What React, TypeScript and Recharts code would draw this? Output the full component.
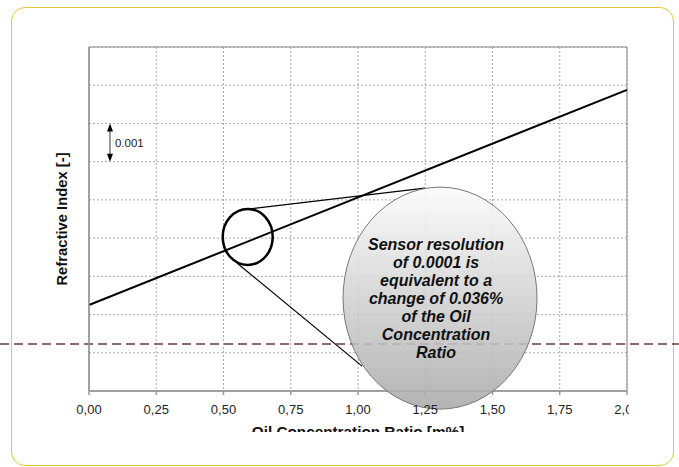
import React from "react"
import {
  LineChart,
  Line,
  XAxis,
  YAxis,
  CartesianGrid,
  ReferenceLine,
  ReferenceDot,
  ReferenceArea,
  Label,
} from "recharts"

// calibration line: oil concentration [m%] vs refractive index offset
const concentration = [0, 2.0]
const refractiveIndex = [0.00225, 0.00788]

const xTicks = [0, 0.25, 0.5, 0.75, 1.0, 1.25, 1.5, 1.75, 2.0]
const yTicks = [0, 0.001, 0.002, 0.003, 0.004, 0.005, 0.006, 0.007, 0.008, 0.009]

// annotations (data coordinates)
const zoomSpot = { x: 0.59, y: 0.00403 }
const noteSpot = { x: 1.305, y: 0.00243 }
const connectorTop = [
  { x: 0.591, y: 0.00476 },
  { x: 1.249, y: 0.00531 },
]
const connectorBottom = [
  { x: 0.55, y: 0.00335 },
  { x: 1.015, y: 0.00065 },
]
const sensorLimit = 0.00123
const stepMarker = { x: 0.078, from: 0.006, to: 0.007, label: "0.001" }
const noteLines = [
  "Sensor resolution",
  "of 0.0001 is",
  "equivalent to a",
  "change of 0.036%",
  "of the Oil",
  "Concentration",
  "Ratio",
]

const data = concentration.map((c, i) => ({ c, n: refractiveIndex[i] }))

const FONT = "Arial, 'Liberation Sans', sans-serif"

function XTick({ x, y, payload }: any) {
  const label = Number(payload.value).toFixed(2).replace(".", ",")
  const last = payload.value === 2
  return (
    <g>
      {last && (
        <defs>
          <clipPath id="lastTickClip">
            <rect x={x - 20} y={y - 5} width={22} height={25} />
          </clipPath>
        </defs>
      )}
      <text
        x={x}
        y={y}
        dy="0.71em"
        textAnchor="middle"
        fill="#222"
        fontSize={13}
        fontFamily={FONT}
        clipPath={last ? "url(#lastTickClip)" : undefined}
      >
        {label}
      </text>
    </g>
  )
}

function NoTick() {
  return <g />
}

function YTitle({ viewBox }: any) {
  const cx = viewBox.x + viewBox.width / 2 + 3
  const cy = viewBox.y + viewBox.height / 2
  return (
    <text
      x={cx}
      y={cy}
      transform={`rotate(-90 ${cx} ${cy})`}
      textAnchor="middle"
      dominantBaseline="central"
      fontSize={14.8}
      fontWeight="bold"
      fontFamily={FONT}
      fill="#111"
    >
      Refractive Index [-]
    </text>
  )
}

function XTitle({ viewBox }: any) {
  const cx = viewBox.x + viewBox.width / 2
  return (
    <g>
      <defs>
        <clipPath id="xTitleClip">
          <rect x={0} y={viewBox.y} width={679} height={41} />
        </clipPath>
      </defs>
      <text
        x={cx}
        y={viewBox.y + 46}
        textAnchor="middle"
        fontSize={15.3}
        fontWeight="bold"
        fontFamily={FONT}
        fill="#111"
        clipPath="url(#xTitleClip)"
      >
        Oil Concentration Ratio [m%]
      </text>
    </g>
  )
}

function SmallEllipse({ cx, cy }: any) {
  return <ellipse cx={cx} cy={cy} rx={25} ry={28} fill="none" stroke="#000" strokeWidth={2.5} />
}

function NoteEllipse({ cx, cy }: any) {
  return (
    <g>
      <defs>
        <linearGradient id="noteFill" x1="0" y1="0" x2="0" y2="1">
          <stop offset="0%" stopColor="#fbfbfb" />
          <stop offset="100%" stopColor="#a9a9a9" />
        </linearGradient>
      </defs>
      <ellipse
        cx={cx}
        cy={cy}
        rx={97}
        ry={111}
        fill="url(#noteFill)"
        fillOpacity={0.88}
        stroke="#777"
        strokeWidth={1}
      />
      {noteLines.map((t, i) => (
        <text
          key={t}
          x={cx - 4}
          y={cy + (i - 3) * 18}
          textAnchor="middle"
          dominantBaseline="central"
          fontSize={16}
          fontWeight="bold"
          fontStyle="italic"
          fontFamily={FONT}
          fill="#111"
        >
          {t}
        </text>
      ))}
    </g>
  )
}

function StepArrow({ x1, y1, x2, y2 }: any) {
  const top = Math.min(y1, y2)
  const bottom = Math.max(y1, y2)
  return (
    <g>
      <line x1={x1} y1={top + 6} x2={x2} y2={bottom - 6} stroke="#333" strokeWidth={1} />
      <polygon points={`${x1},${top} ${x1 - 3},${top + 8} ${x1 + 3},${top + 8}`} fill="#000" />
      <polygon points={`${x1},${bottom} ${x1 - 3},${bottom - 8} ${x1 + 3},${bottom - 8}`} fill="#000" />
      <text
        x={x1 + 5}
        y={(top + bottom) / 2}
        dominantBaseline="central"
        fontSize={11.5}
        fontFamily={FONT}
        fill="#222"
      >
        {stepMarker.label}
      </text>
    </g>
  )
}

function LimitLine({ y1 }: any) {
  return (
    <line x1={0} y1={y1} x2={679} y2={y1} stroke="#6a3c3c" strokeWidth={1.3} strokeDasharray="9 5" />
  )
}

export default function App() {
  return (
    <div style={{ position: "relative", width: 679, height: 467, overflow: "hidden", background: "#fff" }}>
      <style>{"body{margin:0}"}</style>
      <div
        style={{
          position: "absolute",
          left: 11,
          top: 7,
          width: 663,
          height: 459,
          boxSizing: "border-box",
          border: "1.5px solid #e5c83a",
          borderRadius: 14,
        }}
      />
      <div style={{ position: "absolute", left: 0, top: 0 }}>
        <LineChart width={679} height={467} data={data} margin={{ top: 47, right: 52, left: 29, bottom: 26 }}>
          <CartesianGrid stroke="#aaa" strokeDasharray="2 2" />
          <XAxis
            dataKey="c"
            type="number"
            domain={[0, 2]}
            ticks={xTicks}
            tick={<XTick />}
            tickSize={4}
            tickMargin={10}
            height={50}
            stroke="#999"
            strokeWidth={1.5}
            interval={0}
          >
            <Label content={<XTitle />} />
          </XAxis>
          <YAxis
            type="number"
            domain={[0, 0.009]}
            ticks={yTicks}
            tick={<NoTick />}
            tickLine={false}
            width={60}
            stroke="#999"
            strokeWidth={1.5}
            interval={0}
          >
            <Label content={<YTitle />} />
          </YAxis>
          <ReferenceArea x1={0} x2={2} y1={0} y2={0.009} fill="none" stroke="#888" strokeWidth={1} />
          <Line
            dataKey="n"
            type="linear"
            stroke="#000"
            strokeWidth={2}
            dot={false}
            activeDot={false}
            isAnimationActive={false}
          />
          <ReferenceLine segment={connectorTop} stroke="#000" strokeWidth={1.2} />
          <ReferenceLine segment={connectorBottom} stroke="#000" strokeWidth={1.2} />
          <ReferenceDot x={zoomSpot.x} y={zoomSpot.y} r={25} shape={<SmallEllipse />} />
          <ReferenceDot x={noteSpot.x} y={noteSpot.y} r={97} shape={<NoteEllipse />} />
          <ReferenceLine
            segment={[
              { x: stepMarker.x, y: stepMarker.to },
              { x: stepMarker.x, y: stepMarker.from },
            ]}
            shape={<StepArrow />}
          />
          <ReferenceLine y={sensorLimit} shape={<LimitLine />} />
        </LineChart>
      </div>
    </div>
  )
}
